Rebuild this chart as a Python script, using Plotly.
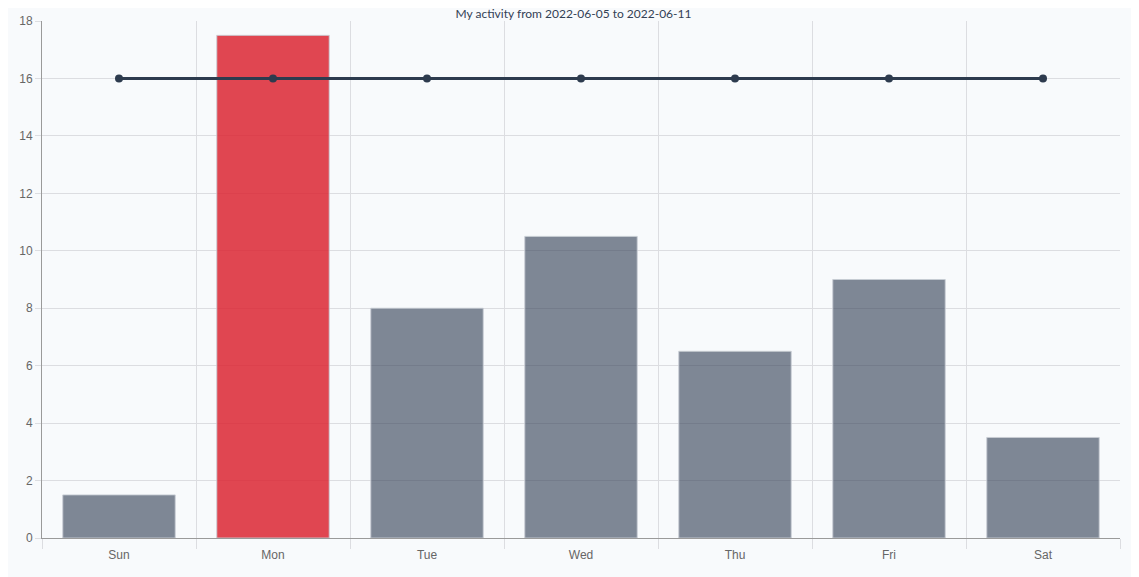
import plotly.graph_objects as go

days = ["Sun", "Mon", "Tue", "Wed", "Thu", "Fri", "Sat"]
hours = [1.5, 17.5, 8, 10.5, 6.5, 9, 3.5]
goal = [16, 16, 16, 16, 16, 16, 16]

GRAY = "rgba(51,65,85,0.62)"
RED = "rgba(220,38,50,0.85)"
BG = "#f8fafc"

# the day over the goal gets the red bar
bar_colors = [RED if h > g else GRAY for h, g in zip(hours, goal)]

fig = go.Figure()
fig.add_trace(go.Bar(
    x=days,
    y=hours,
    marker_color=bar_colors,
    marker_line_color="rgba(200,205,212,0.9)",
    marker_line_width=1,
))
fig.add_trace(go.Scatter(
    x=days,
    y=goal,
    mode="lines+markers",
    line=dict(color="#2d3b4e", width=3),
    marker=dict(color="#2d3b4e", size=8),
))

# page body has an 8px margin, so the figure is 8px smaller each way
fig.update_layout(
    width=1131,
    height=569,
    showlegend=False,
    paper_bgcolor=BG,
    plot_bgcolor=BG,
    bargap=0.27,
    margin=dict(l=34, r=19, t=13, b=39),
    font=dict(family="Liberation Sans, Arial, sans-serif", size=12, color="#666"),
    title=dict(
        text="My activity from 2022-06-05 to 2022-06-11",
        x=0.5, xanchor="center",
        yref="container", y=1.0, yanchor="top",
        pad=dict(t=2, b=0),
        automargin=False,
        font=dict(family="Lato, Open Sans, sans-serif", size=12, color="#334155"),
    ),
)
fig.update_xaxes(
    tickson="boundaries",
    showgrid=True,
    gridcolor="#dcdde1",
    ticks="outside",
    ticklen=10,
    tickcolor="#dcdde1",
    ticklabelstandoff=6,
    showline=True,
    linecolor="#9a9a9a",
    linewidth=1,
    automargin=False,
)
fig.update_yaxes(
    range=[0, 18],
    dtick=2,
    showgrid=True,
    gridcolor="#dcdde1",
    ticks="outside",
    ticklen=6,
    tickcolor="#dcdde1",
    showline=True,
    linecolor="#9a9a9a",
    linewidth=1,
    zeroline=False,
    automargin=False,
)

fig.write_html("out.html")
